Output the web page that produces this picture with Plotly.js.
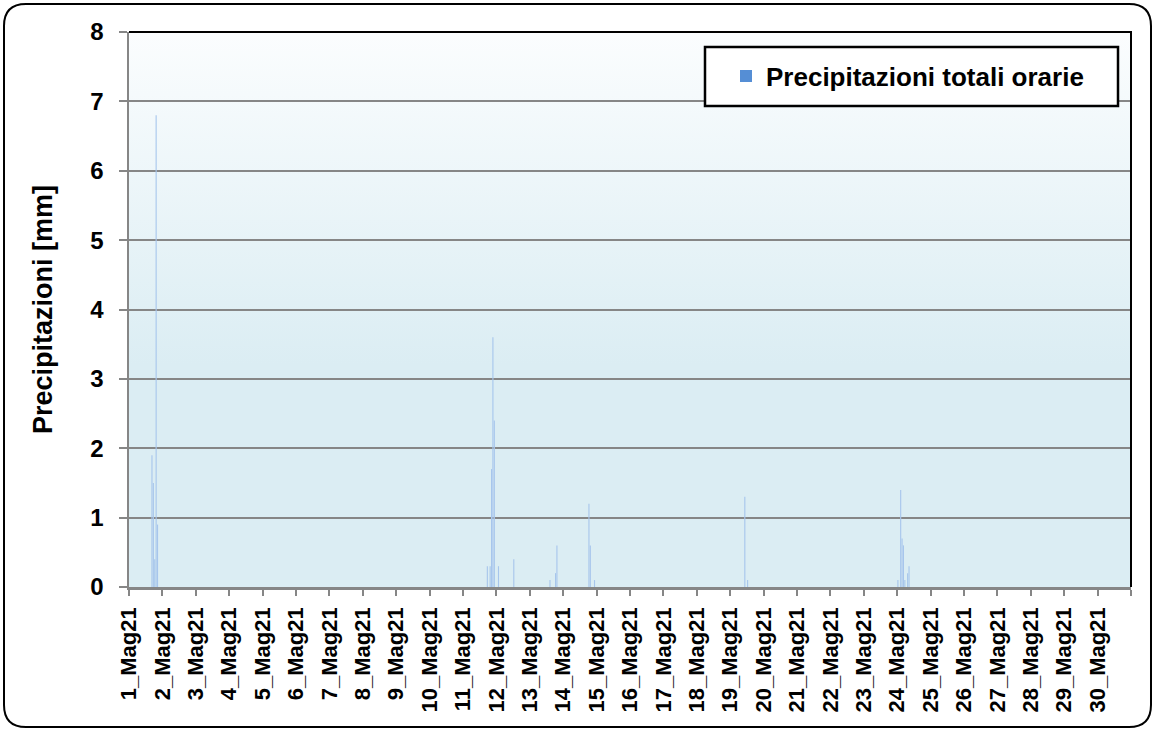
<!DOCTYPE html>
<html>
<head>
<meta charset="utf-8">
<script src="https://cdn.plot.ly/plotly-3.0.1.min.js"></script>
<style>
html,body{margin:0;padding:0;background:#fff;}
#chart{width:1153px;height:729px;}
</style>
</head>
<body>
<div id="chart"></div>
<script>
// ---- data ----
const dayLabels = ["1_Mag21","2_Mag21","3_Mag21","4_Mag21","5_Mag21","6_Mag21","7_Mag21","8_Mag21","9_Mag21","10_Mag21",
  "11_Mag21","12_Mag21","13_Mag21","14_Mag21","15_Mag21","16_Mag21","17_Mag21","18_Mag21","19_Mag21","20_Mag21",
  "21_Mag21","22_Mag21","23_Mag21","24_Mag21","25_Mag21","26_Mag21","27_Mag21","28_Mag21","29_Mag21","30_Mag21"];
// hour offset from 1 May 00:00 (hourly rainfall, non-zero hours only)
const rainHours = [16,17,18,19,20, 257,259,260,261,262,265,276, 302,306,307, 330,331,334, 442,444, 552,554,555,556,557,559,560];
const rainMm    = [1.9,1.5,0.4,6.8,0.9, 0.3,0.3,1.7,3.6,2.4,0.3,0.4, 0.1,0.2,0.6, 1.2,0.6,0.1, 1.3,0.1, 0.1,1.4,0.7,0.6,0.1,0.2,0.3];
const seriesName = "Precipitazioni totali orarie";
const yTicks = [0,1,2,3,4,5,6,7,8];

// ---- layout geometry ----
const L = 129, R = 1131, T = 32, B = 587;
const W = R - L, H = B - T;
const px = x => ((x - L) / W).toFixed(5);
const py = y => ((B - y) / H).toFixed(5);
const pt = (x, y) => px(x) + "," + py(y);

const hoursPerDay = 24;
const tickvals = dayLabels.map((_, i) => i * hoursPerDay).concat([dayLabels.length * hoursPerDay]);
const ticktext = dayLabels.concat([""]);

// outer rounded frame
const oL = 4, oR = 1151, oT = 4, oB = 727, r = 22;
const framePath = "M" + pt(oL + r, oT) + " L" + pt(oR - r, oT) + " Q" + pt(oR, oT) + " " + pt(oR, oT + r) +
  " L" + pt(oR, oB - r) + " Q" + pt(oR, oB) + " " + pt(oR - r, oB) +
  " L" + pt(oL + r, oB) + " Q" + pt(oL, oB) + " " + pt(oL, oB - r) +
  " L" + pt(oL, oT + r) + " Q" + pt(oL, oT) + " " + pt(oL + r, oT) + " Z";

const gradSvg = "<svg xmlns='http://www.w3.org/2000/svg' width='100' height='100' preserveAspectRatio='none'>" +
  "<defs><linearGradient id='g' x1='0' y1='0' x2='0' y2='1'>" +
  "<stop offset='0' stop-color='#fbfdfe'/><stop offset='0.6' stop-color='#dbedf3'/><stop offset='1' stop-color='#dbedf3'/>" +
  "</linearGradient></defs><rect width='100' height='100' fill='url(#g)'/></svg>";
const gradUri = "data:image/svg+xml;charset=utf-8," + encodeURIComponent(gradSvg);

const FONT = "Liberation Sans, Arial, sans-serif";

const traces = [
  {
    type: "bar",
    x: rainHours.map(h => h + 0.5),
    y: rainMm,
    width: 0.8,
    marker: {color: "#a7c6ec", line: {width: 0}},
    showlegend: false,
    hoverinfo: "y"
  },
  {
    type: "bar",
    x: [0.5],
    y: [0],
    width: 0.8,
    name: seriesName,
    marker: {color: "#558ed5", line: {width: 0}},
    showlegend: true,
    hoverinfo: "skip"
  }
];

const gridCol = "#868686";
const layout = {
  width: 1153, height: 729,
  margin: {l: L, r: 1153 - R, t: T, b: 729 - B, pad: 0},
  paper_bgcolor: "#ffffff",
  plot_bgcolor: "rgba(0,0,0,0)",
  barmode: "overlay",
  font: {family: FONT, color: "#000"},
  xaxis: {
    type: "linear",
    range: [0, dayLabels.length * hoursPerDay],
    tickmode: "array",
    tickvals: tickvals,
    ticktext: ticktext,
    tickangle: -90,
    tickfont: {family: FONT, size: 22, weight: "bold", color: "#000"},
    ticks: "outside", ticklen: 6, tickwidth: 2, tickcolor: gridCol,
    showline: true, linecolor: gridCol, linewidth: 2.5,
    showgrid: false, zeroline: false,
    ticklabelstandoff: 3
  },
  yaxis: {
    range: [0, 8],
    tickmode: "array",
    tickvals: yTicks,
    tickfont: {family: FONT, size: 24, weight: "bold", color: "#000"},
    ticks: "outside", ticklen: 8, tickwidth: 2, tickcolor: gridCol,
    showline: true, linecolor: gridCol, linewidth: 2.5,
    showgrid: true, gridcolor: gridCol, gridwidth: 2,
    zeroline: false,
    ticklabelstandoff: 10,
    title: {text: "Precipitazioni [mm]", font: {family: FONT, size: 27, weight: "bold", color: "#000"}, standoff: 30}
  },
  legend: {
    x: px(726), xanchor: "left",
    y: py(76), yanchor: "middle",
    bgcolor: "rgba(0,0,0,0)", borderwidth: 0,
    font: {family: FONT, size: 26, weight: "bold", color: "#000"}
  },
  images: [{
    source: gradUri, xref: "paper", yref: "paper", x: 0, y: 1, sizex: 1, sizey: 1,
    xanchor: "left", yanchor: "top", sizing: "stretch", layer: "below"
  }],
  shapes: [
    {type: "path", xref: "paper", yref: "paper", path: framePath, line: {color: "#000", width: 2}, fillcolor: "rgba(0,0,0,0)", layer: "above"},
    {type: "path", xref: "paper", yref: "paper", path: "M0,1 L1,1 L1,0", line: {color: "#000", width: 2}, layer: "above"},
    {type: "rect", xref: "paper", yref: "paper", x0: px(705), x1: px(1118), y0: py(106), y1: py(47),
     line: {color: "#000", width: 2.5}, fillcolor: "#ffffff", layer: "above"}
  ]
};

Plotly.newPlot("chart", traces, layout, {displayModeBar: false, staticPlot: true});
</script>
</body>
</html>
